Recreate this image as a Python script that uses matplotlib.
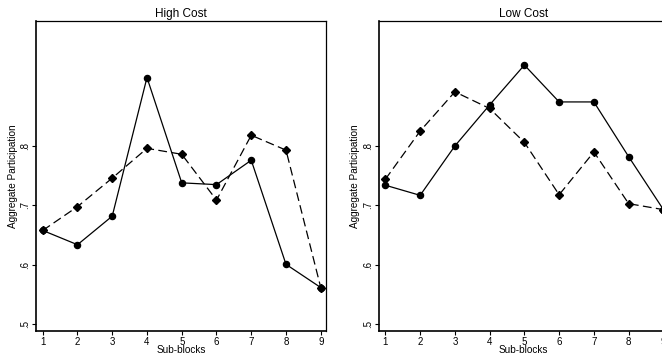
import matplotlib
matplotlib.use("Agg")
import matplotlib.pyplot as plt

plt.rcParams['font.family'] = ['Liberation Sans', 'DejaVu Sans']

# %% data
blocks = [1, 2, 3, 4, 5, 6, 7, 8, 9]

high_solid = [0.658, 0.634, 0.682, 0.915, 0.738, 0.735, 0.776, 0.601, 0.562]
high_dashed = [0.658, 0.698, 0.746, 0.796, 0.786, 0.709, 0.818, 0.793, 0.562]

low_solid = [0.734, 0.717, 0.800, 0.869, 0.936, 0.874, 0.874, 0.782, 0.693]
low_dashed = [0.744, 0.825, 0.891, 0.863, 0.806, 0.718, 0.790, 0.703, 0.693]

titles = ["High Cost", "Low Cost"]
yticks = [0.5, 0.6, 0.7, 0.8]
ytick_labels = [".5", ".6", ".7", ".8"]

# %% figure
fig = plt.figure(figsize=(6.62, 3.6), dpi=100)
ax1 = fig.add_axes([0.0544, 0.0806, 0.438, 0.861])
ax2 = fig.add_axes([0.572, 0.0806, 0.438, 0.861])

panels = [(ax1, high_solid, high_dashed), (ax2, low_solid, low_dashed)]

for i, (ax, solid, dashed) in enumerate(panels):
    ax.plot(blocks, dashed, color='black', lw=0.9, ls=(0, (7, 3.5)),
            marker='D', markersize=4.2, zorder=2)
    ax.plot(blocks, solid, color='black', lw=0.9,
            marker='o', markersize=4.4, zorder=3)

    ax.set_xlim(0.807, 9.15)
    ax.set_ylim(0.489, 1.01)
    ax.set_xticks(blocks)
    ax.set_yticks(yticks)
    ax.set_yticklabels(ytick_labels, rotation=90, va='center')
    ax.tick_params(direction='out', length=3, width=0.8, labelsize=7, pad=1)

    ax.set_title(titles[i], fontsize=8.5, pad=3)
    ax.set_xlabel("Sub-blocks", fontsize=7.2, labelpad=-1)
    ax.set_ylabel("Aggregate Participation", fontsize=7.2, labelpad=2)

    for s in ax.spines.values():
        s.set_linewidth(0.9)
    ax.spines['left'].set_linewidth(1.2)
    ax.spines['bottom'].set_linewidth(1.2)

fig.savefig("out.png", dpi=100)
